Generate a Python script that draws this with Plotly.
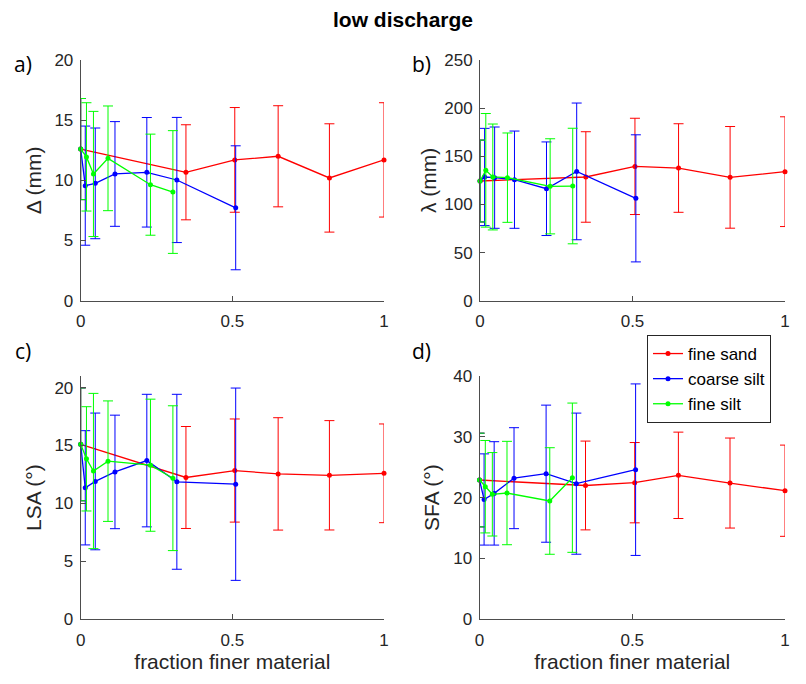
import plotly.graph_objects as go

# ---------------- data ----------------
series_names = ["fine sand", "coarse silt", "fine silt"]
series_colors = ["#FF0000", "#0000FF", "#00FF00"]

x_sand = [0, 0.347, 0.508, 0.651, 0.82, 1.0]
x_coarse = [0, 0.015, 0.048, 0.113, 0.218, 0.317, 0.511]
x_fine = [0, 0.019, 0.042, 0.090, 0.230, 0.304]

# a) Delta (mm)
delta_sand = [12.6, 10.67, 11.7, 12.0, 10.2, 11.7]
delta_sand_err = [4.2, 3.95, 4.35, 4.2, 4.5, 4.75]
delta_coarse = [12.6, 9.56, 9.75, 10.53, 10.67, 10.03, 7.72]
delta_coarse_err = [4.2, 4.95, 4.6, 4.35, 4.55, 5.2, 5.15]
delta_fine = [12.6, 11.95, 10.53, 11.83, 9.64, 9.03]
delta_fine_err = [4.2, 4.5, 5.2, 4.35, 4.2, 5.1]

# b) lambda (mm)
lam_sand = [124.3, 128.5, 139.5, 137.8, 128.1, 134.0]
lam_sand_err = [42.5, 47, 50, 46, 52.8, 57]
lam_coarse = [124.3, 128.5, 127.8, 125.7, 116.3, 134.3, 106.3]
lam_coarse_err = [42.5, 50.5, 52.6, 50.5, 48.6, 71, 66]
lam_fine = [124.3, 135.4, 128.5, 127.8, 118.8, 119.1]
lam_fine_err = [42.5, 59, 55, 46.4, 49.4, 60]

# c) LSA (deg)
lsa_sand = [15.1, 12.24, 12.84, 12.55, 12.43, 12.6]
lsa_sand_err = [4.87, 4.4, 4.45, 4.85, 4.72, 4.26]
lsa_coarse = [15.1, 11.35, 11.9, 12.72, 13.7, 11.87, 11.66]
lsa_coarse_err = [4.87, 4.93, 5.9, 4.9, 5.72, 7.55, 8.3]
lsa_fine = [15.1, 13.85, 12.8, 13.65, 13.3, 12.18]
lsa_fine_err = [4.87, 4.5, 6.7, 5.2, 5.7, 6.25]

# d) SFA (deg)
sfa_sand = [22.9, 22.0, 22.46, 23.67, 22.4, 21.14]
sfa_sand_err = [7.7, 7.3, 6.6, 7.1, 7.4, 7.5]
sfa_coarse = [22.9, 19.7, 20.7, 23.2, 23.94, 22.3, 24.6]
sfa_coarse_err = [7.7, 7.5, 8.5, 8.3, 11.27, 11.6, 14.1]
sfa_fine = [22.9, 21.8, 20.55, 20.76, 19.45, 23.28]
sfa_fine_err = [7.7, 7.6, 6.86, 8.5, 8.76, 12.27]

panel_labels = ["a)", "b)", "c)", "d)"]
y_titles = ["\u0394 (mm)", "\u03bb (mm)", "LSA (\u00b0)", "SFA (\u00b0)"]
y_ranges = [[0, 20], [0, 250], [0, 21], [0, 40]]
y_ticks = [[0, 5, 10, 15, 20], [0, 50, 100, 150, 200, 250], [0, 5, 10, 15, 20], [0, 10, 20, 30, 40]]
x_title = "fraction finer material"
x_ticks = [0, 0.5, 1]
x_ticklabels = ["0", "0.5", "1"]

panels = [
    [(x_sand, delta_sand, delta_sand_err), (x_coarse, delta_coarse, delta_coarse_err), (x_fine, delta_fine, delta_fine_err)],
    [(x_sand, lam_sand, lam_sand_err), (x_coarse, lam_coarse, lam_coarse_err), (x_fine, lam_fine, lam_fine_err)],
    [(x_sand, lsa_sand, lsa_sand_err), (x_coarse, lsa_coarse, lsa_coarse_err), (x_fine, lsa_fine, lsa_fine_err)],
    [(x_sand, sfa_sand, sfa_sand_err), (x_coarse, sfa_coarse, sfa_coarse_err), (x_fine, sfa_fine, sfa_fine_err)],
]

# ---------------- layout geometry (pixels) ----------------
W, H = 806, 684
x_domains = [[80.7, 384.0], [480.0, 785.0], [80.7, 384.0], [479.5, 785.0]]
y_domains = [[60.0, 300.7], [60.0, 300.7], [376.0, 619.3], [376.0, 619.3]]
label_pos = [(23, 64), (422, 64), (23, 351), (421, 351)]
y_title_standoff = [7, 1, 7, 7]

AX_COLOR = "#4d4d4d"
TXT_COLOR = "#262626"
FONT = "Liberation Sans, Arial, sans-serif"

fig = go.Figure()

for p, traces in enumerate(panels):
    ax_suffix = "" if p == 0 else str(p + 1)
    for s, (xs, ys, es) in enumerate(traces):
        fig.add_trace(go.Scatter(
            x=xs, y=ys,
            mode="lines+markers",
            name=series_names[s],
            legendgroup=series_names[s],
            showlegend=(p == 3),
            line=dict(color=series_colors[s], width=1.3),
            marker=dict(color=series_colors[s], size=5),
            error_y=dict(type="data", array=es, visible=True,
                         color=series_colors[s], thickness=1, width=5),
            cliponaxis=False,
            xaxis="x" + ax_suffix, yaxis="y" + ax_suffix,
        ))

layout = dict(
    width=W, height=H,
    margin=dict(l=0, r=0, t=0, b=0, pad=0, autoexpand=False),
    paper_bgcolor="white", plot_bgcolor="white",
    font=dict(family=FONT, color=TXT_COLOR, size=17),
    title=dict(text="low discharge", x=0.5, xanchor="center",
               y=1 - 20 / H, yanchor="middle", automargin=False,
               font=dict(size=21, family=FONT, color="black", weight="bold")),
    legend=dict(x=647 / W, y=1 - 335 / H, xanchor="left", yanchor="top",
                bgcolor="white", bordercolor=TXT_COLOR, borderwidth=1,
                font=dict(size=17, family=FONT, color="black"),
                itemwidth=30, tracegroupgap=0),
    showlegend=True,
)

for p in range(4):
    key = "" if p == 0 else str(p + 1)
    xd = [x_domains[p][0] / W, x_domains[p][1] / W]
    yd = [1 - y_domains[p][1] / H, 1 - y_domains[p][0] / H]
    layout["xaxis" + key] = dict(
        domain=xd, anchor="y" + key, range=[0, 1], automargin=False,
        tickvals=x_ticks, ticktext=x_ticklabels,
        showline=True, linecolor=AX_COLOR, linewidth=1,
        ticks="inside", ticklen=5, tickcolor=AX_COLOR,
        showgrid=False, zeroline=False,
        ticklabelstandoff=5,
        tickfont=dict(size=17, color=TXT_COLOR),
        title=dict(text=x_title if p >= 2 else "", font=dict(size=21, color=TXT_COLOR), standoff=4),
    )
    layout["yaxis" + key] = dict(
        domain=yd, anchor="x" + key, range=y_ranges[p], automargin=False,
        tickvals=y_ticks[p],
        showline=True, linecolor=AX_COLOR, linewidth=1,
        ticks="inside", ticklen=5, tickcolor=AX_COLOR,
        showgrid=False, zeroline=False,
        ticklabelstandoff=3,
        tickfont=dict(size=17, color=TXT_COLOR),
        title=dict(text=y_titles[p], font=dict(size=21, color=TXT_COLOR), standoff=y_title_standoff[p]),
    )

annotations = []
for p in range(4):
    lx, ly = label_pos[p]
    annotations.append(dict(
        text=panel_labels[p], x=lx / W, y=1 - ly / H, xref="paper", yref="paper",
        xanchor="center", yanchor="middle", showarrow=False,
        font=dict(size=21, family="Open Sans, Noto Sans, sans-serif", color="black"),
    ))
layout["annotations"] = annotations

fig.update_layout(**layout)
fig.write_html("out.html", config={"displayModeBar": False},
               post_script="document.body.style.margin='0';document.body.style.overflow='hidden';")
